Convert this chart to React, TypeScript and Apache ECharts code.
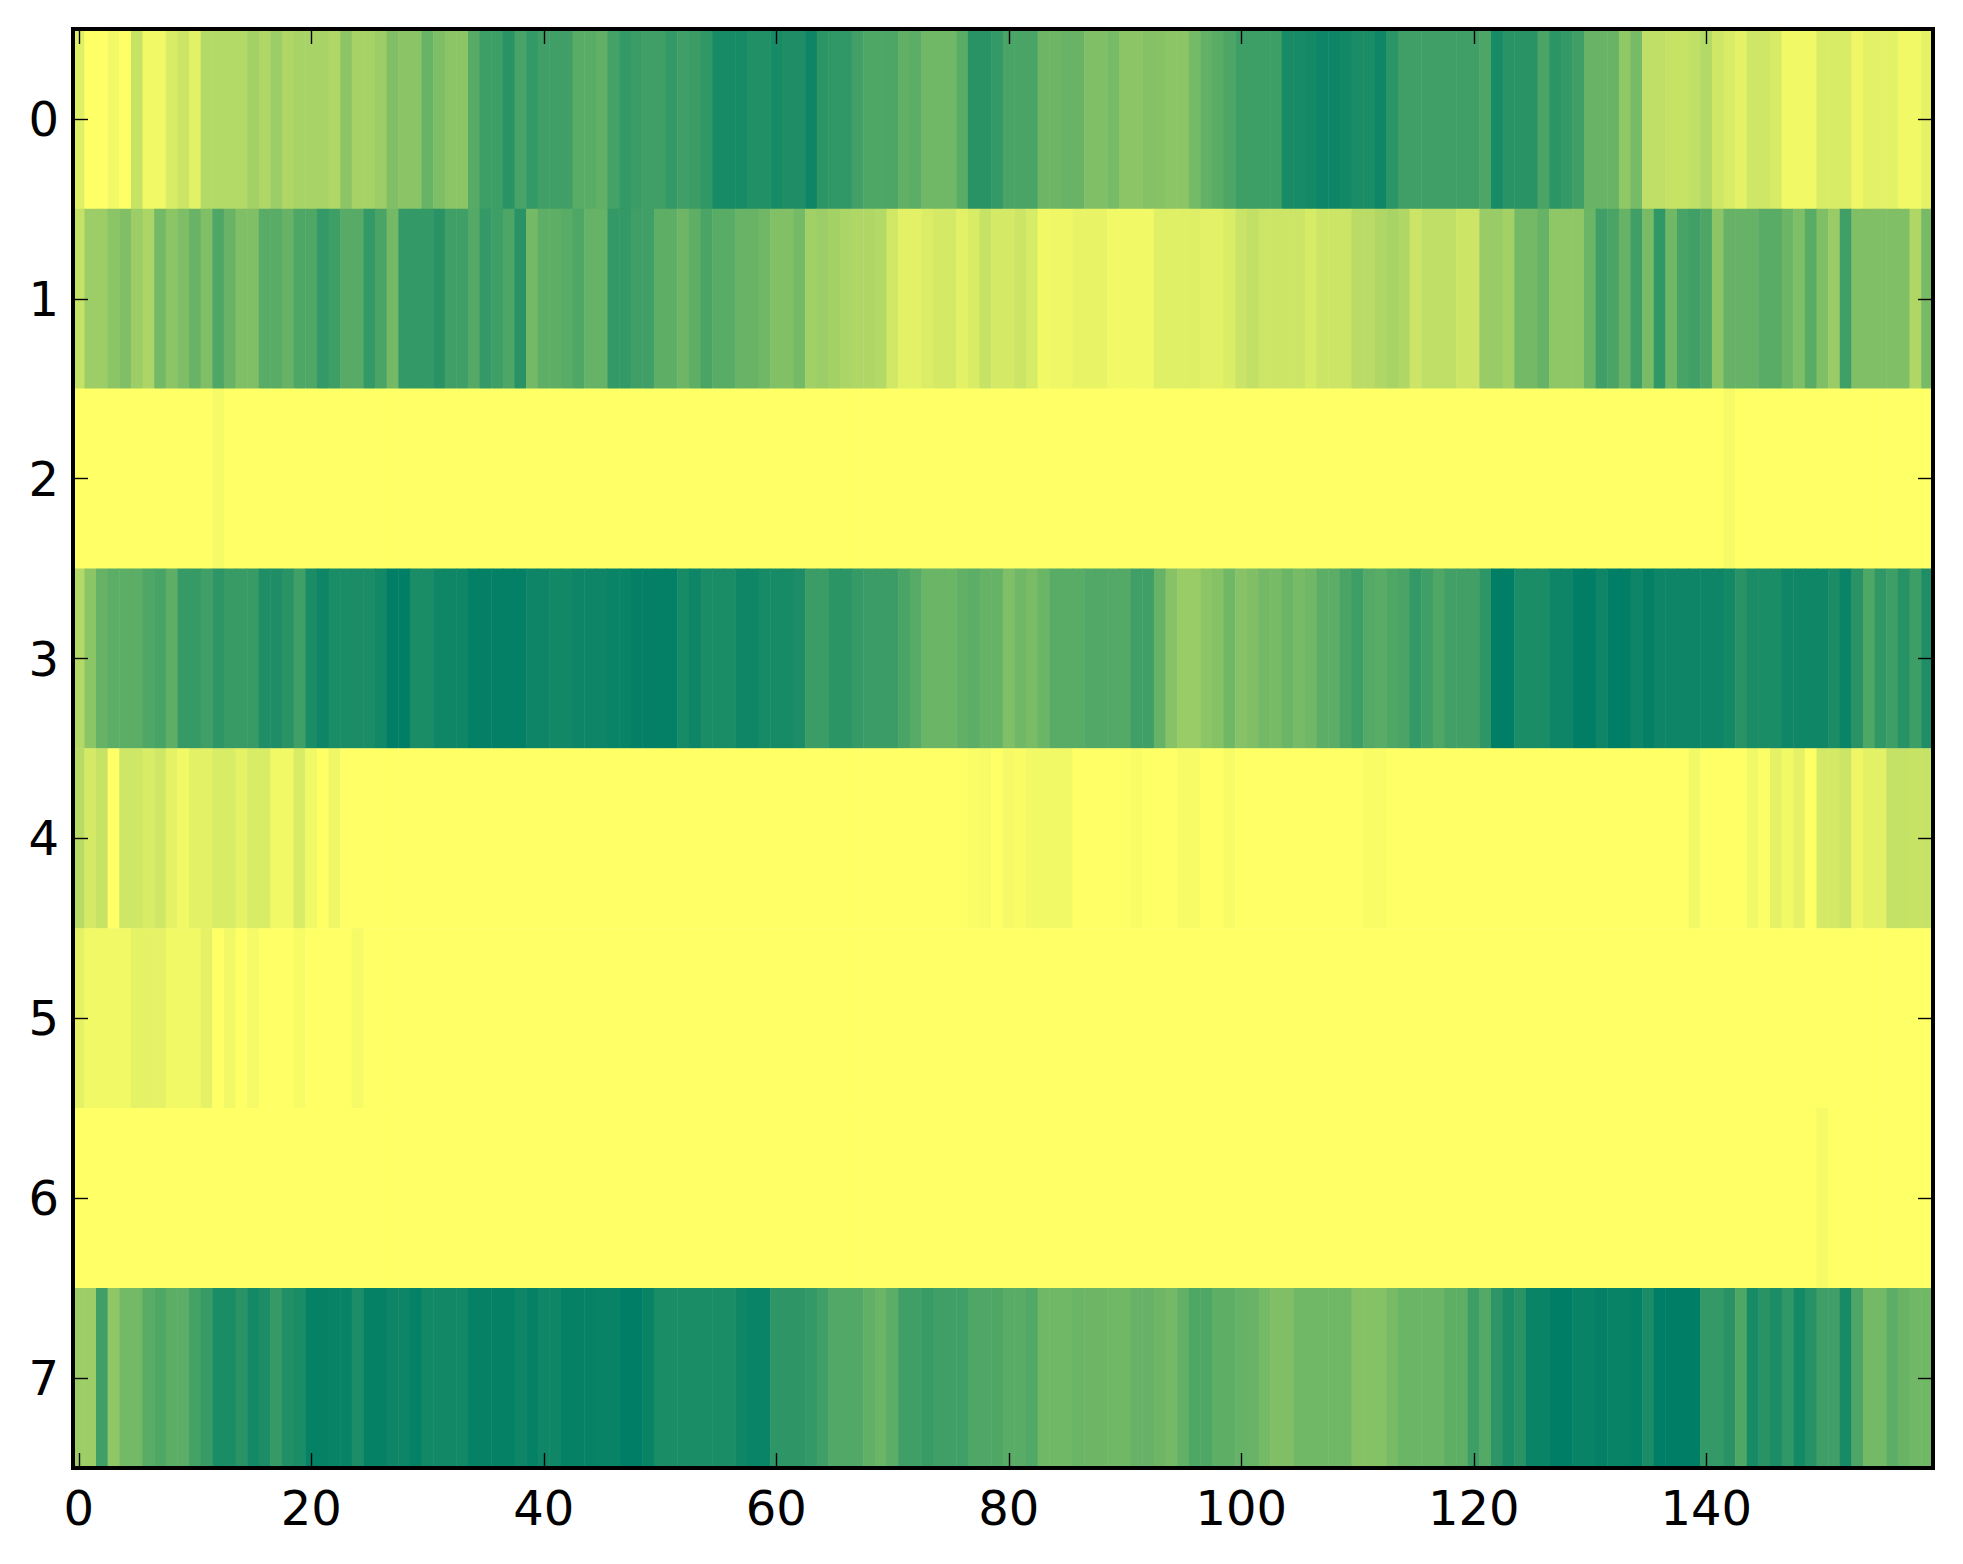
import React, { useEffect, useRef } from "react";
import * as echarts from "echarts";

const columnLabels: string[] = Array.from({ length: 160 }, (_, i) => String(i));
const rowLabels: string[] = ["0", "1", "2", "3", "4", "5", "6", "7"];

const row0 = [
  .12,0,0,.05,0,.22,.05,.05,.15,.2,
  .11,.3,.3,.3,.3,.36,.31,.39,.31,.34,
  .34,.34,.31,.45,.35,.35,.39,.5,.46,.46,
  .59,.51,.45,.45,.66,.76,.76,.84,.72,.8,
  .75,.75,.75,.65,.65,.62,.73,.8,.77,.75,
  .75,.8,.75,.77,.81,.91,.91,.91,.87,.87,
  .91,.88,.88,.95,.83,.81,.81,.74,.69,.69,
  .7,.62,.64,.56,.56,.56,.65,.84,.84,.8,
  .71,.71,.71,.57,.57,.59,.59,.5,.5,.53,
  .45,.45,.48,.47,.45,.45,.54,.61,.65,.7,
  .76,.76,.76,.76,.91,.91,.92,.95,.95,.93,
  .9,.9,.94,.83,.75,.75,.75,.75,.75,.75,
  .75,.7,.91,.84,.84,.84,.71,.83,.8,.75,
  .59,.59,.59,.43,.53,.25,.25,.22,.22,.25,
  .3,.19,.15,.1,.19,.19,.16,.05,.05,.05,
  .15,.15,.15,.06,.11,.11,.11,.05,.05,.1,
];
const row1 = [
  .23,.39,.39,.45,.5,.39,.33,.55,.45,.51,
  .59,.5,.69,.59,.5,.5,.65,.65,.6,.69,
  .69,.8,.76,.66,.66,.8,.71,.55,.8,.8,
  .8,.84,.75,.75,.67,.8,.76,.7,.84,.55,
  .63,.63,.65,.69,.6,.6,.8,.8,.75,.75,
  .63,.63,.57,.63,.71,.65,.65,.59,.59,.56,
  .49,.49,.54,.37,.39,.36,.33,.31,.31,.3,
  .18,.11,.11,.14,.17,.17,.11,.15,.22,.17,
  .17,.2,.16,.05,.06,.06,.09,.09,.09,.05,
  .05,.05,.05,.12,.12,.12,.13,.11,.11,.14,
  .21,.24,.2,.2,.2,.2,.16,.2,.2,.2,
  .27,.27,.31,.34,.31,.2,.25,.25,.25,.2,
  .2,.4,.4,.36,.55,.55,.6,.44,.44,.44,
  .58,.75,.71,.6,.75,.53,.81,.56,.72,.75,
  .7,.45,.6,.6,.6,.65,.65,.58,.51,.65,
  .5,.4,.75,.5,.5,.5,.5,.5,.31,.53,
];
const row2 = [
  0,0,0,0,0,0,0,0,0,0,
  0,0,.04,0,0,0,0,0,0,0,
  0,0,0,0,0,0,0,0,0,0,
  0,0,0,0,0,0,0,0,0,0,
  0,0,0,0,0,0,0,0,0,0,
  0,0,0,0,0,0,0,0,0,0,
  0,0,0,0,0,0,0,0,0,0,
  0,0,0,0,0,0,0,0,0,0,
  0,0,0,0,0,0,0,0,0,0,
  0,0,0,0,0,0,0,0,0,0,
  0,0,0,0,0,0,0,0,0,0,
  0,0,0,0,0,0,0,0,0,0,
  0,0,0,0,0,0,0,0,0,0,
  0,0,0,0,0,0,0,0,0,0,
  0,0,.04,0,0,0,0,0,0,0,
  0,0,0,0,0,0,0,0,0,0,
];
const row3 = [
  .3,.45,.6,.64,.64,.64,.69,.72,.63,.79,
  .79,.75,.82,.78,.78,.78,.88,.88,.84,.75,
  .9,.95,.9,.9,.9,.9,.93,1,1,.9,
  .9,.94,.94,.94,.99,.99,.99,.99,.99,.95,
  .95,.93,.93,.95,.95,.95,.96,.96,.99,.99,
  .99,.99,.91,.95,.9,.9,.9,.94,.94,.91,
  .91,.91,.89,.77,.77,.83,.83,.79,.77,.77,
  .77,.71,.66,.58,.58,.58,.62,.64,.6,.6,
  .5,.56,.52,.58,.65,.65,.65,.68,.68,.67,
  .67,.75,.75,.6,.47,.4,.4,.45,.48,.56,
  .47,.5,.55,.53,.58,.53,.56,.64,.64,.71,
  .76,.67,.65,.69,.71,.8,.75,.69,.74,.74,
  .74,.82,1,1,.9,.9,.9,.95,.95,1,
  1,.95,1,1,.95,.99,.95,.95,.95,.95,
  .95,.95,.92,.84,.9,.9,.9,.94,.94,.94,
  .94,.9,.96,.84,.69,.81,.76,.85,.76,.88,
];
const row4 = [
  .28,.17,.22,0,.19,.19,.15,.19,.1,.05,
  .11,.11,.15,.15,.1,.15,.15,.05,.05,.15,
  .05,0,.06,0,0,0,0,0,0,0,
  0,0,0,0,0,0,0,0,0,0,
  0,0,0,0,0,0,0,0,0,0,
  0,0,0,0,0,0,0,0,0,0,
  0,0,0,0,0,0,0,0,0,0,
  0,0,0,0,0,0,0,.015,.03,0,
  .04,.02,.05,.05,.05,.05,0,0,0,0,
  0,.02,0,0,0,.03,.03,0,0,.03,
  0,0,0,0,0,0,0,0,0,0,
  0,.02,.02,0,0,0,0,0,0,0,
  0,0,0,0,0,0,0,0,0,0,
  0,0,0,0,0,0,0,0,0,.05,
  0,0,0,0,.05,.01,.1,.05,.1,0,
  .17,.17,.2,.06,.11,.11,.23,.23,.22,.22,
];
const row5 = [
  .1,.05,.05,.05,.05,.1,.1,.1,.05,.05,
  .05,.1,0,.05,0,.04,0,0,0,.03,
  0,0,0,0,.04,0,0,0,0,0,
  0,0,0,0,0,0,0,0,0,0,
  0,0,0,0,0,0,0,0,0,0,
  0,0,0,0,0,0,0,0,0,0,
  0,0,0,0,0,0,0,0,0,0,
  0,0,0,0,0,0,0,0,0,0,
  0,0,0,0,0,0,0,0,0,0,
  0,0,0,0,0,0,0,0,0,0,
  0,0,0,0,0,0,0,0,0,0,
  0,0,0,0,0,0,0,0,0,0,
  0,0,0,0,0,0,0,0,0,0,
  0,0,0,0,0,0,0,0,0,0,
  0,0,0,0,0,0,0,0,0,0,
  0,0,0,0,0,0,0,0,0,0,
];
const row6 = [
  0,0,0,0,0,0,0,0,0,0,
  0,0,0,0,0,0,0,0,0,0,
  0,0,0,0,0,0,0,0,0,0,
  0,0,0,0,0,0,0,0,0,0,
  0,0,0,0,0,0,0,0,0,0,
  0,0,0,0,0,0,0,0,0,0,
  0,0,0,0,0,0,0,0,0,0,
  0,0,0,0,0,0,0,0,0,0,
  0,0,0,0,0,0,0,0,0,0,
  0,0,0,0,0,0,0,0,0,0,
  0,0,0,0,0,0,0,0,0,0,
  0,0,0,0,0,0,0,0,0,0,
  0,0,0,0,0,0,0,0,0,0,
  0,0,0,0,0,0,0,0,0,0,
  0,0,0,0,0,0,0,0,0,0,
  .04,0,0,0,0,0,0,0,0,0,
];
const row7 = [
  .39,.39,.75,.44,.55,.55,.65,.69,.64,.64,
  .73,.78,.9,.9,.84,.92,.89,.79,.87,.9,
  .98,.98,.97,.97,.89,.98,.98,.95,.95,.98,
  .93,.93,.93,.93,.98,.98,.98,.98,.95,.98,
  .94,.94,.98,.98,.98,.97,.97,1,1,.97,
  .9,.9,.9,.9,.9,.9,.9,.94,.96,.96,
  .82,.82,.82,.8,.75,.68,.68,.68,.62,.58,
  .64,.75,.75,.78,.75,.75,.75,.69,.69,.69,
  .65,.65,.68,.56,.56,.56,.58,.57,.57,.56,
  .56,.6,.6,.57,.55,.62,.69,.69,.63,.63,
  .6,.59,.54,.5,.5,.56,.56,.56,.56,.56,
  .48,.48,.48,.53,.58,.58,.58,.58,.63,.63,
  .76,.67,.82,.9,.84,.96,.96,1,1,.97,
  .97,.99,.97,.97,.99,.9,1,1,1,1,
  .8,.8,.84,.69,.91,.84,.9,.81,.92,.85,
  .75,.75,.91,.7,.55,.55,.64,.59,.56,.56,
];
const rows: number[][] = [row0, row1, row2, row3, row4, row5, row6, row7];

export default function App() {
  const ref = useRef<HTMLDivElement>(null);
  useEffect(() => {
    document.body.style.margin = "0";
    document.body.style.background = "#fff";
    const chart = echarts.init(ref.current!, undefined, { renderer: "svg" });
    const data: [number, number, number][] = [];
    rows.forEach((r, y) => r.forEach((v, x) => data.push([x, y, v])));
    const line = { show: true, onZero: false, lineStyle: { color: "#000", width: 4, cap: "square" as const } };
    const tick = { show: true, inside: true, length: 15, alignWithLabel: true, lineStyle: { color: "#000", width: 1.4 } };
    const label = { color: "#000", fontFamily: "DejaVu Sans", fontSize: 48 };
    chart.setOption({
      animation: false,
      backgroundColor: "#fff",
      grid: { left: 73, right: 30, top: 29, bottom: 96, containLabel: false },
      xAxis: [
        {
          type: "category", data: columnLabels, position: "bottom", z: 10,
          axisLine: line, axisTick: { ...tick, interval: 19 },
          axisLabel: { ...label, interval: 19, margin: 16, hideOverlap: false },
          splitLine: { show: false },
        },
        {
          type: "category", data: columnLabels, position: "top", z: 10,
          axisLine: line, axisTick: { ...tick, interval: 19 },
          axisLabel: { show: false }, splitLine: { show: false },
        },
      ],
      yAxis: [
        {
          type: "category", data: rowLabels, inverse: true, position: "left", z: 10,
          axisLine: line, axisTick: tick,
          axisLabel: { ...label, interval: 0, margin: 14, padding: [0, 0, 4, 0] }, splitLine: { show: false },
        },
        {
          type: "category", data: rowLabels, inverse: true, position: "right", z: 10,
          axisLine: line, axisTick: tick,
          axisLabel: { show: false }, splitLine: { show: false },
        },
      ],
      visualMap: {
        show: false, type: "continuous", min: 0, max: 1, dimension: 2,
        seriesIndex: 0, inRange: { color: ["#ffff66", "#007f66"] },
      },
      series: [
        {
          type: "heatmap", data, xAxisIndex: 0, yAxisIndex: 0,
          progressive: 0, itemStyle: { borderWidth: 0 },
          emphasis: { disabled: true },
        },
      ],
    });
    return () => chart.dispose();
  }, []);
  return <div ref={ref} style={{ width: 1963, height: 1564 }} />;
}
